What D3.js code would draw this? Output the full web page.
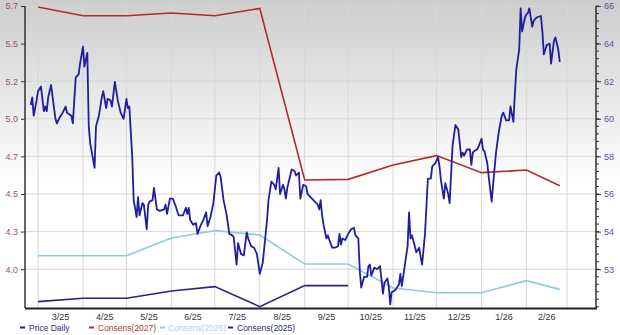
<!DOCTYPE html>
<html><head><meta charset="utf-8">
<script src="https://cdn.jsdelivr.net/npm/d3@7"></script>
<style>html,body{margin:0;padding:0;background:#fff}svg{display:block}</style>
</head><body>
<svg id="chart" width="620" height="335"></svg>
<script>
// ---------- data ----------
const priceDates = ["2025-02-24","2025-02-25","2025-02-26","2025-02-28","2025-03-01","2025-03-03","2025-03-05","2025-03-06","2025-03-07","2025-03-08","2025-03-10","2025-03-13","2025-03-14","2025-03-16","2025-03-18","2025-03-20","2025-03-21","2025-03-24","2025-03-25","2025-03-27","2025-03-29","2025-03-30","2025-04-01","2025-04-02","2025-04-04","2025-04-05","2025-04-06","2025-04-09","2025-04-10","2025-04-12","2025-04-14","2025-04-15","2025-04-17","2025-04-18","2025-04-20","2025-04-21","2025-04-23","2025-04-25","2025-04-27","2025-04-29","2025-05-01","2025-05-02","2025-05-03","2025-05-05","2025-05-06","2025-05-08","2025-05-09","2025-05-10","2025-05-12","2025-05-13","2025-05-15","2025-05-16","2025-05-17","2025-05-19","2025-05-20","2025-05-22","2025-05-24","2025-05-27","2025-05-28","2025-05-29","2025-05-31","2025-06-02","2025-06-04","2025-06-06","2025-06-09","2025-06-11","2025-06-12","2025-06-13","2025-06-14","2025-06-16","2025-06-18","2025-06-19","2025-06-21","2025-06-23","2025-06-25","2025-06-26","2025-06-28","2025-06-30","2025-07-02","2025-07-04","2025-07-05","2025-07-07","2025-07-09","2025-07-11","2025-07-13","2025-07-14","2025-07-16","2025-07-17","2025-07-19","2025-07-21","2025-07-23","2025-07-24","2025-07-26","2025-07-28","2025-07-30","2025-08-01","2025-08-03","2025-08-04","2025-08-06","2025-08-07","2025-08-09","2025-08-11","2025-08-12","2025-08-14","2025-08-15","2025-08-17","2025-08-18","2025-08-19","2025-08-20","2025-08-23","2025-08-25","2025-08-26","2025-08-28","2025-08-29","2025-08-31","2025-09-02","2025-09-03","2025-09-06","2025-09-10","2025-09-11","2025-09-12","2025-09-13","2025-09-14","2025-09-16","2025-09-17","2025-09-18","2025-09-20","2025-09-22","2025-09-24","2025-09-25","2025-09-26","2025-09-27","2025-09-29","2025-10-01","2025-10-03","2025-10-05","2025-10-06","2025-10-08","2025-10-09","2025-10-10","2025-10-12","2025-10-14","2025-10-15","2025-10-16","2025-10-17","2025-10-19","2025-10-21","2025-10-23","2025-10-24","2025-10-25","2025-10-26","2025-10-28","2025-10-29","2025-10-30","2025-10-31","2025-11-02","2025-11-03","2025-11-05","2025-11-06","2025-11-07","2025-11-09","2025-11-11","2025-11-12","2025-11-13","2025-11-14","2025-11-16","2025-11-17","2025-11-19","2025-11-20","2025-11-21","2025-11-23","2025-11-25","2025-11-27","2025-11-28","2025-11-30","2025-12-02","2025-12-03","2025-12-04","2025-12-06","2025-12-07","2025-12-09","2025-12-10","2025-12-12","2025-12-14","2025-12-16","2025-12-18","2025-12-19","2025-12-20","2025-12-22","2025-12-24","2025-12-25","2025-12-26","2025-12-27","2025-12-29","2025-12-30","2026-01-01","2026-01-02","2026-01-03","2026-01-05","2026-01-06","2026-01-08","2026-01-09","2026-01-11","2026-01-13","2026-01-15","2026-01-16","2026-01-18","2026-01-20","2026-01-21","2026-01-23","2026-01-24","2026-01-25","2026-01-27","2026-01-28","2026-01-29","2026-01-31","2026-02-01","2026-02-02","2026-02-03","2026-02-05","2026-02-06","2026-02-08","2026-02-11","2026-02-12","2026-02-13","2026-02-15","2026-02-17","2026-02-18","2026-02-20","2026-02-21","2026-02-23","2026-02-24"];
const priceValues = [5.08,5.13,5.01,5.11,5.17,5.20,5.04,5.07,5.04,5.13,5.21,4.99,4.96,5.00,5.03,5.07,5.03,5.01,4.96,5.26,5.28,5.35,5.46,5.33,5.42,4.94,4.83,4.67,4.94,5.01,5.13,5.17,5.06,5.12,5.11,5.07,5.23,5.11,5.03,4.99,5.12,5.06,5.07,4.74,4.46,4.35,4.48,4.36,4.44,4.43,4.27,4.43,4.45,4.46,4.54,4.40,4.39,4.40,4.43,4.37,4.47,4.47,4.42,4.36,4.36,4.41,4.37,4.41,4.33,4.30,4.31,4.24,4.29,4.33,4.38,4.29,4.35,4.44,4.62,4.64,4.61,4.46,4.37,4.24,4.23,4.22,4.04,4.18,4.11,4.10,4.25,4.21,4.16,4.15,4.11,3.98,4.05,4.14,4.33,4.46,4.58,4.56,4.53,4.67,4.50,4.56,4.53,4.47,4.54,4.66,4.65,4.62,4.64,4.47,4.56,4.55,4.50,4.47,4.43,4.40,4.46,4.36,4.30,4.21,4.23,4.20,4.15,4.15,4.16,4.24,4.17,4.21,4.20,4.24,4.27,4.28,4.23,4.21,4.00,3.89,3.96,3.96,4.03,4.04,3.97,4.02,4.01,4.03,3.94,3.85,3.92,3.95,3.90,3.78,3.86,3.87,3.88,3.91,3.98,3.90,4.03,4.16,4.38,4.21,4.23,4.16,4.12,4.15,4.09,4.04,4.24,4.60,4.60,4.68,4.70,4.74,4.68,4.59,4.47,4.57,4.50,4.44,4.81,4.95,4.92,4.74,4.77,4.75,4.79,4.79,4.69,4.77,4.78,4.79,4.81,4.86,4.79,4.78,4.70,4.61,4.45,4.56,4.77,4.91,5.01,5.03,4.98,4.98,5.07,4.97,5.15,5.31,5.44,5.71,5.56,5.65,5.67,5.68,5.71,5.59,5.63,5.65,5.66,5.56,5.41,5.47,5.48,5.35,5.50,5.52,5.44,5.36];

const consensDates = ["2025-03-01","2025-04-01","2025-05-01","2025-06-01","2025-07-01","2025-08-01","2025-09-01","2025-10-01","2025-11-01","2025-12-01","2026-01-01","2026-02-01","2026-02-24"];
const consens2027 = [65.95,65.51,65.51,65.65,65.51,65.88,57.21,57.24,57.97,58.44,57.58,57.71,56.92];
const consens2026 = [53.38,53.38,53.38,54.28,54.65,54.43,52.96,52.96,51.75,51.51,51.51,52.12,51.68];
const consens2025 = [51.06,51.23,51.23,51.60,51.82,50.81,51.87,51.87];

const monthStarts = ["2025-03-01","2025-04-01","2025-05-01","2025-06-01","2025-07-01","2025-08-01","2025-09-01","2025-10-01","2025-11-01","2025-12-01","2026-01-01","2026-02-01","2026-03-01"];
const xTickLabels = ["3/25","4/25","5/25","6/25","7/25","8/25","9/25","10/25","11/25","12/25","1/26","2/26"];

const leftTickValues = [4.01,4.255,4.5,4.745,4.99,5.235,5.48,5.725];
const leftTickLabels = ["4.0","4.3","4.5","4.7","5.0","5.2","5.5","5.7"];
const rightTickValues = [52.7,54.6,56.5,58.4,60.3,62.2,64.1,66.0];
const rightTickLabels = ["53","54","56","58","60","62","64","66"];

const legendItems = [
  {label:"Price Daily", color:"#1f1f9e", text:"#2b2b8c"},
  {label:"Consens(2027)", color:"#b22a2a", text:"#b03a3a"},
  {label:"Consens(2026)", color:"#8fcbe0", text:"#a9d3e4"},
  {label:"Consens(2025)", color:"#23238a", text:"#2b2b7a"}
];

// ---------- drawing ----------
const parse = d3.utcParse("%Y-%m-%d");
const svg = d3.select("#chart");
const W = 620, H = 335;
const L = 25, R = 596, T = 6, B = 308;

const defs = svg.append("defs");
const grad = defs.append("linearGradient").attr("id","bg").attr("x1",0).attr("y1",0).attr("x2",0).attr("y2",1);
grad.append("stop").attr("offset","0%").attr("stop-color","#cdcdcd");
grad.append("stop").attr("offset","55%").attr("stop-color","#ffffff");
grad.append("stop").attr("offset","100%").attr("stop-color","#ffffff");
svg.append("rect").attr("width",W).attr("height",H).attr("fill","url(#bg)");

const x = d3.scaleUtc().domain([parse("2025-02-20"), parse("2026-03-21")]).range([L, R]);
const yL = d3.scaleLinear().domain([3.757, 5.725]).range([B, T]);
const yR = d3.scaleLinear().domain([50.74, 66]).range([B, T]);

const font = "'Liberation Sans', Arial, sans-serif";

// grid
const grid = svg.append("g");
grid.selectAll("line.h").data(leftTickValues).join("line")
  .attr("x1",L).attr("x2",R).attr("y1",d=>yL(d)).attr("y2",d=>yL(d))
  .attr("stroke","#d6d6dc").attr("stroke-width",1);
grid.selectAll("line.v").data(monthStarts).join("line")
  .attr("x1",d=>x(parse(d))).attr("x2",d=>x(parse(d))).attr("y1",T).attr("y2",B)
  .attr("stroke","#d6d6dc").attr("stroke-width",1);

// lines
const lineR = (dates) => d3.line().x((d,i)=>x(parse(dates[i]))).y(d=>yR(d));
svg.append("path").datum(consens2026).attr("d", lineR(consensDates))
  .attr("fill","none").attr("stroke","#8fcbe0").attr("stroke-width",1.6);
svg.append("path").datum(consens2025).attr("d", lineR(consensDates))
  .attr("fill","none").attr("stroke","#23238a").attr("stroke-width",1.6);
svg.append("path").datum(consens2027).attr("d", lineR(consensDates))
  .attr("fill","none").attr("stroke","#b22a2a").attr("stroke-width",1.6);

const priceLine = d3.line().x((d,i)=>x(parse(priceDates[i]))).y(d=>yL(d));
svg.append("path").datum(priceValues).attr("d", priceLine)
  .attr("fill","none").attr("stroke","#1f1f9e").attr("stroke-width",1.8).attr("stroke-linejoin","round");

// left axis
const axL = d3.axisLeft(yL).tickValues(leftTickValues).tickFormat((d,i)=>leftTickLabels[i]).tickSize(4).tickPadding(3);
const gL = svg.append("g").attr("transform",`translate(${L},0)`).call(axL);
gL.select(".domain").attr("stroke","#333").attr("stroke-width",1.5).attr("d",`M0,${T}V${B}`);
gL.selectAll(".tick line").attr("stroke","#333");
gL.selectAll(".tick text").attr("fill","#a0505f").style("font-family",font).style("font-size","9px");

// right axis with minor ticks
const gRm = svg.append("g").attr("transform",`translate(${R},0)`);
gRm.selectAll("line").data(d3.range(-5, 36).map(i => rightTickValues[0] + i*0.38).filter(v=>v>=50.74 && v<=66))
  .join("line").attr("x1",0).attr("x2",3).attr("y1",d=>yR(d)).attr("y2",d=>yR(d)).attr("stroke","#333");
const axR = d3.axisRight(yR).tickValues(rightTickValues).tickFormat((d,i)=>rightTickLabels[i]).tickSize(5).tickPadding(3);
const gR = svg.append("g").attr("transform",`translate(${R},0)`).call(axR);
gR.select(".domain").attr("stroke","#333").attr("stroke-width",1.5).attr("d",`M0,${T}V${B}`);
gR.selectAll(".tick line").attr("stroke","#333");
gR.selectAll(".tick text").attr("fill","#55559a").style("font-family",font).style("font-size","9px");

// bottom axis
svg.append("line").attr("x1",L).attr("x2",R+1).attr("y1",B+0.5).attr("y2",B+0.5).attr("stroke","#222").attr("stroke-width",2);
const mids = xTickLabels.map((t,i)=> (x(parse(monthStarts[i])) + x(parse(monthStarts[i+1])))/2);
svg.append("g").selectAll("text").data(xTickLabels).join("text")
  .attr("x",(d,i)=>mids[i]).attr("y",320).attr("text-anchor","middle")
  .attr("fill","#333").style("font-family",font).style("font-size","9px").text(d=>d);

// legend
const legMarkX = [20, 89, 160, 228];
const legTextX = [29, 98, 168, 237];
const lg = svg.append("g");
legendItems.forEach((it,i)=>{
  lg.append("line").attr("x1",legMarkX[i]).attr("x2",legMarkX[i]+5).attr("y1",327.5).attr("y2",327.5)
    .attr("stroke",it.color).attr("stroke-width",2);
  lg.append("text").attr("x",legTextX[i]).attr("y",330.5).attr("fill",it.text)
    .style("font-family",font).style("font-size","8.5px").text(it.label);
});
</script>
</body></html>
